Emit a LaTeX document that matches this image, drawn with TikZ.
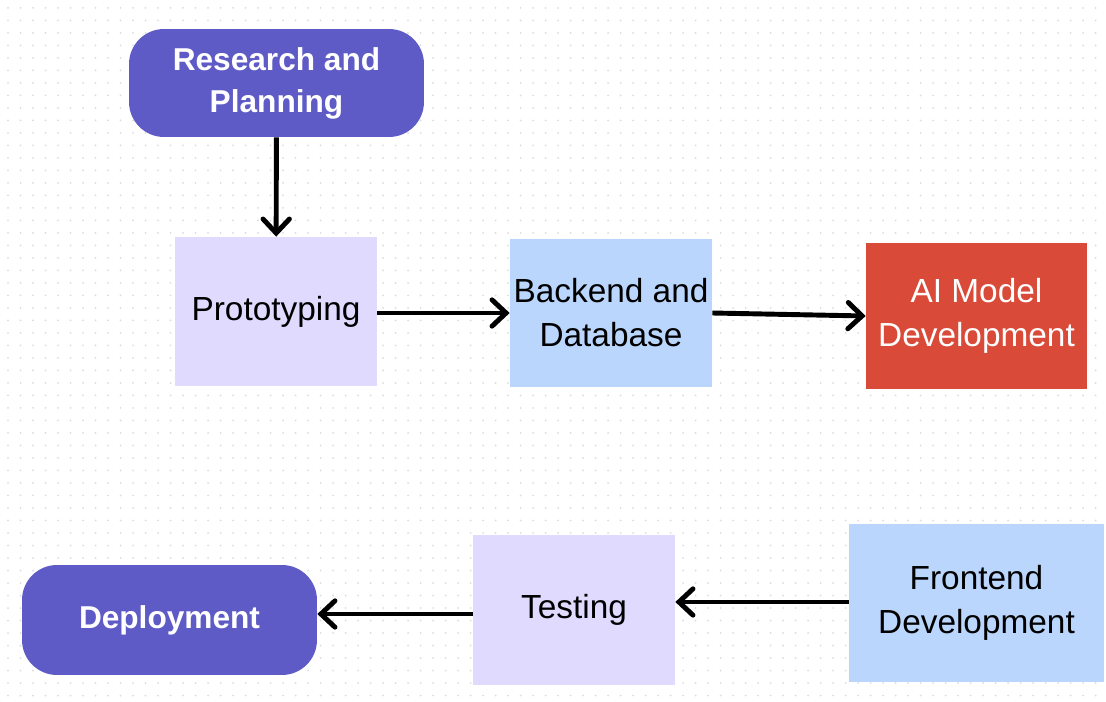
\documentclass[tikz,border=0pt]{standalone}
\usepackage{fontspec}
\setmainfont{Liberation Sans}
\usepackage{tikz}
\usetikzlibrary{arrows.meta,positioning}
\definecolor{planpurple}{HTML}{5F5BC6}
\definecolor{lavender}{HTML}{E0DBFE}
\definecolor{skyblue}{HTML}{BAD6FD}
\definecolor{modelred}{HTML}{DA4A38}
\definecolor{dotgray}{HTML}{DCDCDC}
\tikzset{
    milestone/.style={fill=planpurple, text=white, rounded corners=0.7cm, align=center,
        font=\fontsize{18}{24}\selectfont\bfseries, minimum width=5.9cm},
    task/.style={align=center, font=\fontsize{19}{25}\selectfont, inner sep=0pt},
    flow/.style={line width=2.8pt, -{Straight Barb[length=8pt,width=15pt,line cap=round]}}
}
\begin{document}
\begin{tikzpicture}[x=0.02cm,y=-0.02cm]
    \useasboundingbox (0,0) rectangle (1106,702);
    \fill[white] (0,0) rectangle (1106,702);
    % dotted canvas
    \foreach \i in {8,20.5,...,1100} {
        \foreach \j in {8,20.5,...,700} {
            \fill[dotgray] (\i,\j) circle (1);
        }
    }

    % top row
    \node[milestone, minimum height=2.16cm] (research) at (276.5,83) {Research and\\Planning};
    \node[task, fill=lavender, minimum width=4.04cm, minimum height=2.98cm] (proto) at (276,311.5) {Prototyping};
    \node[task, fill=skyblue, minimum width=4.04cm, minimum height=2.96cm] (backend) at (611,313) {Backend and\\Database};
    \node[task, fill=modelred, text=white, minimum width=4.42cm, minimum height=2.92cm] (aimodel) at (976.5,316) {AI Model\\Development};

    % bottom row
    \node[task, fill=skyblue, minimum width=5.1cm, minimum height=3.16cm] (frontend) at (976.5,603) {Frontend\\Development};
    \node[task, fill=lavender, minimum width=4.04cm, minimum height=3.0cm] (testing) at (574,610) {Testing};
    \node[milestone, minimum height=2.2cm] (deploy) at (169.5,620) {Deployment};

    % arrows
    \draw[flow] (research) -- (proto);
    \draw[flow] (proto.east |- backend) -- (backend.west);
    \draw[flow] (backend.east) -- (aimodel.west);
    \draw[flow] (frontend.west |- 0,602) -- (testing.east |- 0,602);
    \draw[flow] (testing.west |- 0,614) -- (deploy.east |- 0,614);
\end{tikzpicture}
\end{document}
